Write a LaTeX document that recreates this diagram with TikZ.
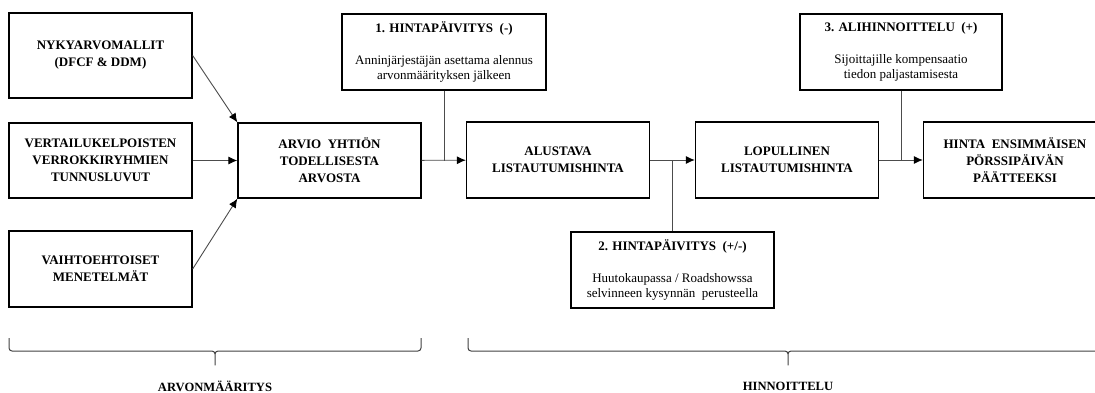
\documentclass[tikz,border=0pt]{standalone}
\usepackage{fontspec}
\setmainfont{Liberation Serif}
\usetikzlibrary{arrows.meta}
\tikzset{
  box/.style={
      draw,
      line width=1.3pt,
      minimum width=183pt,
      minimum height=76pt,
      align=center,
      font=\bfseries\fontsize{13}{17}\selectfont
  },
  update/.style={
      box,
      minimum width=203pt,
      font=\fontsize{13}{15.5}\selectfont
  },
  link/.style={draw=black!70, line width=0.9pt, -{Latex[length=9pt,width=8pt,color=black]}},
  feed/.style={draw=black!70, line width=0.9pt},
  bracket/.style={draw=black!75, line width=1pt, rounded corners=3pt},
  phase/.style={font=\bfseries\fontsize{12.6}{14}\selectfont}
}
\newcommand{\updtitle}[1]{{\bfseries #1}\\[16pt]}

\begin{document}
\begin{tikzpicture}[x=1pt,y=-1pt]
    \useasboundingbox (0,0) rectangle (1095,392);
    % arvonmaaritys
    \node[box, minimum height=85pt] (nyky) at (100.5,55.5) {NYKYARVOMALLIT\\(DFCF \& DDM)};
    \node[box, minimum height=75pt] (vert) at (100.5,160.5) {VERTAILUKELPOISTEN\\VERROKKIRYHMIEN\\TUNNUSLUVUT};
    \node[box] (vaiht) at (100.5,269) {VAIHTOEHTOISET\\MENETELMÄT};
    \node[box, minimum height=75pt] (arvio) at (329.5,160.5) {ARVIO\ \ YHTIÖN\\TODELLISESTA\\ARVOSTA};
    % hinnoittelu
    \node[box] (alust) at (558,160) {ALUSTAVA\\LISTAUTUMISHINTA};
    \node[box] (lopul) at (787,160) {LOPULLINEN\\LISTAUTUMISHINTA};
    \node[box] (hinta) at (1015,160) {HINTA\ \ ENSIMMÄISEN\\PÖRSSIPÄIVÄN\\PÄÄTTEEKSI};
    \node[update, minimum width=204pt] (hp1) at (444,52)
        {\updtitle{1. HINTAPÄIVITYS\ \ (-)}Anninjärjestäjän asettama alennus\\arvonmäärityksen jälkeen};
    \node[update] (hp2) at (672.5,270)
        {\updtitle{2. HINTAPÄIVITYS\ \ (+/-)}Huutokaupassa / Roadshowssa\\selvinneen kysynnän\ \ perusteella};
    \node[update, minimum width=202pt] (ali) at (901,52)
        {\updtitle{3. ALIHINNOITTELU\ \ (+)}Sijoittajille kompensaatio\\tiedon paljastamisesta};

    % nuolet
    \draw[link] (nyky.east) -- (arvio.north west);
    \draw[link] (vert) -- (arvio);
    \draw[link] (vaiht.east) -- (arvio.south west);
    \draw[link] (arvio) -- (alust);
    \draw[link] (alust) -- (lopul);
    \draw[link] (lopul) -- (hinta);
    \coordinate (j1) at (hp1.south |- arvio.east);
    \coordinate (j2) at (hp2.north |- alust.east);
    \coordinate (j3) at (ali.south |- lopul.east);
    \draw[feed] (hp1.south) -- (j1);
    \draw[feed] (hp2.north) -- (j2);
    \draw[feed] (ali.south) -- (j3);

    % aaltosulkeet
    \draw[bracket] (9,338) -- (9,351) -- (215,351) -- (215,367) -- (215,351) -- (421,351) -- (421,338);
    \draw[bracket] (468,338) -- (468,351) -- (788,351) -- (788,367) -- (788,351) -- (1108,351) -- (1108,338);
    \node[phase] (arvot) at (215,386) {ARVONMÄÄRITYS};
    \node[phase] (hinnat) at (788,386) {HINNOITTELU};
\end{tikzpicture}
\end{document}
